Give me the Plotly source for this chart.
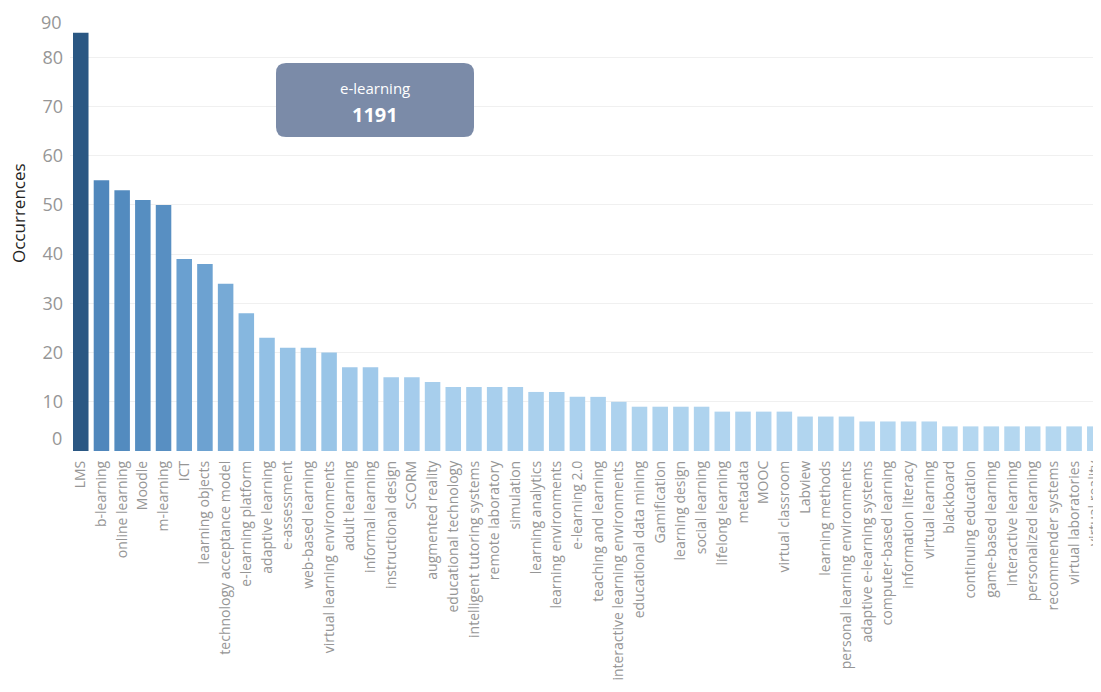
import plotly.graph_objects as go

keywords = [
    "LMS", "b-learning", "online learning", "Moodle", "m-learning", "ICT",
    "learning objects", "technology acceptance model", "e-learning platform",
    "adaptive learning", "e-assessment", "web-based learning",
    "virtual learning environments", "adult learning", "informal learning",
    "instructional design", "SCORM", "augmented reality", "educational technology",
    "intelligent tutoring systems", "remote laboratory", "simulation",
    "learning analytics", "learning environments", "e-learning 2.0",
    "teaching and learning", "interactive learning environments",
    "educational data mining", "Gamification", "learning design", "social learning",
    "lifelong learning", "metadata", "MOOC", "virtual classroom", "Labview",
    "learning methods", "personal learning environments",
    "adaptive e-learning systems", "computer-based learning", "information literacy",
    "virtual learning", "blackboard", "continuing education", "game-based learning",
    "interactive learning", "personalized learning", "recommender systems",
    "virtual laboratories", "virtual reality",
]
occurrences = [
    85, 55, 53, 51, 50, 39,
    38, 34, 28,
    23, 21, 21,
    20, 17, 17,
    15, 15, 14, 13,
    13, 13, 13,
    12, 12, 11,
    11, 10,
    9, 9, 9, 9,
    8, 8, 8, 8, 7,
    7, 7,
    6, 6, 6,
    6, 5, 5, 5,
    5, 5, 5,
    5, 5,
]
y_ticks = [0, 10, 20, 30, 40, 50, 60, 70, 80, 90]
y_title = "Occurrences"
callout_label = "e-learning"
callout_value = 1191

x_idx = list(range(len(keywords)))
ymin, ymax = y_ticks[0], y_ticks[-1]

colorscale = [
    [0.0, "#b4d7f0"],
    [0.12, "#a6cdec"],
    [0.25, "#8dbde3"],
    [0.42, "#6ba1d0"],
    [0.62, "#5088bd"],
    [0.8, "#3f72a6"],
    [1.0, "#2a5783"],
]

fig = go.Figure(go.Bar(
    x=x_idx,
    y=occurrences,
    marker=dict(color=occurrences, colorscale=colorscale, cmin=5, cmax=85,
                line=dict(width=0)),
    hovertext=keywords,
))

TICK_GREY = "#969696"

fig.update_layout(
    width=1093, height=684,
    margin=dict(l=62, r=0, t=0, b=241, autoexpand=False),
    paper_bgcolor="white", plot_bgcolor="white",
    bargap=0.25,
    showlegend=False,
    font=dict(family="Open Sans", color=TICK_GREY),
)
fig.update_xaxes(
    range=[-0.52, 49.3],
    tickmode="array", tickvals=x_idx, ticktext=keywords,
    tickangle=-90, tickfont=dict(size=14, color=TICK_GREY),
    ticklabelstandoff=6, ticklabeloverflow="allow",
    showgrid=False, zeroline=False, showline=False, ticks="",
    automargin=False,
)
# end labels (0 and 90) are nudged inside the plot like the original; drawn below
ticktext = ["" if v in (ymin, ymax) else str(v) for v in y_ticks]
fig.update_yaxes(
    range=[ymin, ymax + 0.02],
    tickmode="array", tickvals=y_ticks, ticktext=ticktext,
    tickfont=dict(size=18, color=TICK_GREY),
    ticklabelstandoff=6,
    showgrid=True, gridcolor="#f0f0f0", gridwidth=1,
    zeroline=False, showline=False, ticks="",
    automargin=False,
)
for v, shift in ((ymax, -14), (ymin, 13)):
    fig.add_annotation(x=0, y=v, xref="paper", yref="y", xanchor="right",
                       yanchor="middle", xshift=-6, yshift=shift, showarrow=False,
                       text=str(v), font=dict(size=18, color=TICK_GREY))

# axis title (sits slightly above the pane centre, as in the original)
px_w, px_h = 1031.0, 443.0
fig.add_annotation(x=0, y=1 - (213 - 8) / px_h, xref="paper", yref="paper",
                   xanchor="center", yanchor="middle", xshift=-52,
                   textangle=-90, showarrow=False, text=y_title,
                   font=dict(size=17, color="#222222"))

# rounded callout box in paper coords (plot area: 1031 x 443 px)
x0, x1 = (276 - 70) / px_w, (474 - 70) / px_w
y1, y0 = 1 - (63 - 8) / px_h, 1 - (137 - 8) / px_h
rx, ry = 10 / px_w, 10 / px_h
path = (f"M {x0+rx},{y0} L {x1-rx},{y0} Q {x1},{y0} {x1},{y0+ry} "
        f"L {x1},{y1-ry} Q {x1},{y1} {x1-rx},{y1} L {x0+rx},{y1} "
        f"Q {x0},{y1} {x0},{y1-ry} L {x0},{y0+ry} Q {x0},{y0} {x0+rx},{y0} Z")
fig.add_shape(type="path", path=path, xref="paper", yref="paper",
              fillcolor="#7b8ba8", line=dict(width=0), layer="above")
xc = (x0 + x1) / 2
fig.add_annotation(x=xc, y=1 - (88 - 8) / px_h, xref="paper", yref="paper",
                   xanchor="center", yanchor="middle",
                   text=callout_label, showarrow=False,
                   font=dict(size=15, color="white", family="Open Sans"))
fig.add_annotation(x=xc, y=1 - (114 - 8) / px_h, xref="paper", yref="paper",
                   xanchor="center", yanchor="middle",
                   text=f"<b>{callout_value}</b>", showarrow=False,
                   font=dict(size=20, color="white", family="Open Sans"))

fig.write_html("out.html")
